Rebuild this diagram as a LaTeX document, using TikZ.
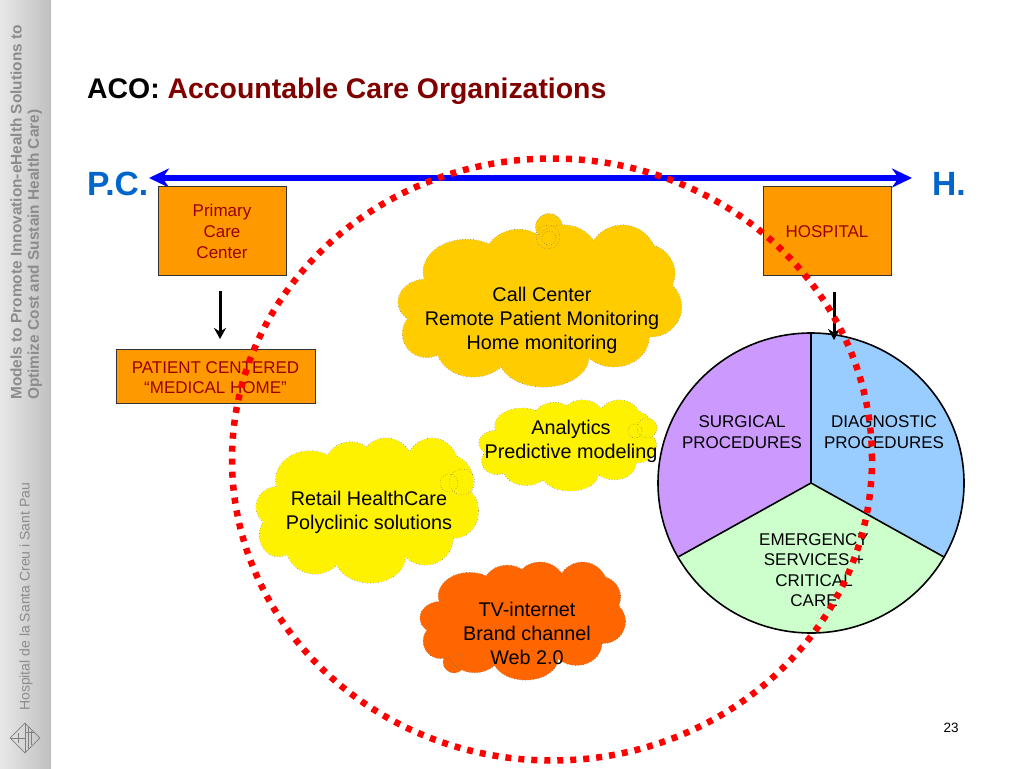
\documentclass[tikz,border=0pt]{standalone}
\usepackage{xcolor}
\usepackage{fontspec}
\setmainfont{Liberation Sans}
\usetikzlibrary{arrows.meta,shapes.geometric}
\definecolor{darkred}{HTML}{800000}
\definecolor{boxred}{HTML}{990000}
\definecolor{headblue}{HTML}{0066CC}
\definecolor{boxorange}{HTML}{FF9900}
\definecolor{sidegrey}{HTML}{8C8C8C}
\definecolor{callyellow}{HTML}{FFCC00}
\definecolor{tvorange}{HTML}{FF6600}
\definecolor{surgical}{HTML}{CC99FF}
\definecolor{diagnostic}{HTML}{99CCFF}
\definecolor{emergency}{HTML}{CCFFCC}
\newcommand{\sz}[1]{\fontsize{#1}{#1}\selectfont}
\newcommand{\lobelist}{110/305/85/68, 230/215/130/97, 385/175/100/87, 520/175/105/100, 695/185/105/110, 760/220/92/88, 780/320/92/90, 670/410/105/90, 460/470/135/90, 250/440/110/90, 110/400/72/72}
% one cloud: colour, left, top, width, height
\newcommand{\lobecloud}[5]{
    \begin{scope}[shift={(#2,#3)}, xscale=#4/845, yscale=#5/485, shift={(-25,-75)}]
        \foreach \cx/\cy/\rx/\ry in \lobelist
            \draw[cloudline] (\cx,\cy) ellipse [x radius=\rx, y radius=\ry];
        \foreach \cx/\cy/\rx/\ry in \lobelist
            \fill[#1] (\cx,\cy) ellipse [x radius=\rx, y radius=\ry];
        \fill[#1] (450,310) ellipse [x radius=330, y radius=170];
    \end{scope}
}
\tikzset{
    orangebox/.style={draw=black!80, fill=boxorange, inner sep=0pt, line width=0.8pt},
    boxtext/.style={text=boxred, align=center, font=\sz{17}, inner sep=0pt},
    cloudline/.style={draw=black!65, dotted, line width=0.7pt},
    puff/.style={circle, draw=black!55, dotted, line width=0.5pt, inner sep=0pt},
    bubbletext/.style={align=center, font=\sz{19.8}},
    pietext/.style={align=center, font=\sz{17}},
    heading/.style={font=\bfseries\sz{33.6}, text=headblue},
    sidetext/.style={rotate=90, anchor=west, text=sidegrey, font=\bfseries\sz{15.4}, inner sep=0pt},
    pointer/.style={-{Stealth[length=11pt,width=12pt]}, line width=3pt, black}
}
\begin{document}
\begin{tikzpicture}[x=1pt,y=-1pt]
    \useasboundingbox (0,0) rectangle (1024,768);
    \fill[white] (0,0) rectangle (1024,768);
    % side band
    \shade[left color=black!9, right color=black!25] (0,0) rectangle (51,768);
    \node[sidetext] (sidea) at (16,400) {Models to Promote Innovation-eHealth Solutions to};
    \node[sidetext] (sideb) at (35,400) {Optimize Cost and Sustain Health Care)};
    \node[sidetext, font=\sz{14}] (sidec) at (26,711) {Hospital de la Santa Creu i Sant Pau};
    \node[diamond, draw=black!50, minimum width=30pt, minimum height=30pt, inner sep=0pt, line width=0.8pt] (logo) at (25,738) {};
    \draw[black!50, line width=0.7pt] (logo.north) -- (logo.south) (logo.west) -- (logo.center);
    \draw[black!50, line width=0.7pt] (18,733) -- (18,743) (28,727) -- (28,749) (31,731) -- (31,745) (25,732) -- (34,732);

    % title
    \node[anchor=base west, inner sep=0pt, font=\bfseries\sz{28.4}] (title) at (87,98) {ACO: \textcolor{darkred}{Accountable Care Organizations}};
    \node[heading, anchor=base west, inner sep=0pt] (pc) at (87,195) {P.C.};
    \node[heading, anchor=base west, inner sep=0pt] (h) at (932,195) {H.};
    \coordinate (axisl) at (149,178);
    \coordinate (axisr) at (912,178);
    \draw[{Stealth[length=20pt,width=19pt]}-{Stealth[length=20pt,width=19pt]}, blue, line width=6pt] (axisl) -- (axisr);

    % boxes
    \node[orangebox, minimum width=128pt, minimum height=89pt] (care) at (222,230.5) {};
    \node[boxtext] (caretext) at (222,231.5) {Primary\\[3.6pt]Care\\[3.6pt]Center};
    \node[orangebox, minimum width=128pt, minimum height=89pt] (hospital) at (827,230.5) {};
    \node[boxtext] (hospitaltext) at (827,232) {HOSPITAL};
    \node[orangebox, minimum width=199pt, minimum height=54pt] (home) at (215.5,376) {};
    \node[boxtext] (hometext) at (215.5,377.5) {PATIENT CENTERED\\[3pt]“MEDICAL HOME”};
    \coordinate (carearrow) at (220,291);
    \coordinate (cararrowend) at (220,339);
    \coordinate (hosparrow) at (834,292);
    \coordinate (hosparrowend) at (834,340);
    \draw[pointer] (carearrow) -- (cararrowend);

    % clouds
    \node[puff, fill=callyellow, minimum size=27pt] (callpuff) at (549,227) {};
    \lobecloud{callyellow}{398}{225}{283}{162}
    \node[puff, minimum size=24pt] (callpuffb) at (548,237) {};
    \node[puff, minimum size=14pt] (callpuffc) at (549,238) {};
    \lobecloud{yellow}{479}{400}{177}{91}
    \node[puff, fill=yellow, minimum size=20pt] (analyticspuff) at (647,428) {};
    \node[puff, minimum size=14pt] (analyticspuffb) at (635,431) {};
    \lobecloud{yellow}{256}{438}{222}{145}
    \node[puff, minimum size=26pt] (retailpuff) at (462,482) {};
    \node[puff, minimum size=18pt] (retailpuffb) at (449,483) {};
    \node[puff, fill=tvorange, minimum size=22pt] (tvpuff) at (454,662) {};
    \lobecloud{tvorange}{420}{562}{205}{118}
    \node[puff, minimum size=12pt] (tvpuffb) at (457,660) {};

    \node[bubbletext] (calltext) at (542,320) {Call Center\\[4.2pt]Remote Patient Monitoring\\[4.2pt]Home monitoring};
    \node[bubbletext] (analyticstext) at (571,441) {Analytics\\[4.2pt]Predictive modeling};
    \node[bubbletext] (retailtext) at (369,512) {Retail HealthCare\\[4.2pt]Polyclinic solutions};
    \node[bubbletext] (tvtext) at (527,633) {TV-internet\\[4.2pt]Brand channel\\[4.2pt]Web 2.0};

    % pie
    \coordinate (piec) at (811,483);
    \coordinate (pietop) at (811,333);
    \coordinate (pieleft) at (678,557);
    \coordinate (pieright) at (944,557);
    \fill[surgical] (piec) -- (pieleft) arc[start angle=209.5, end angle=90, x radius=153pt, y radius=150pt] -- cycle;
    \fill[diagnostic] (piec) -- (pietop) arc[start angle=90, end angle=-29.5, x radius=153pt, y radius=150pt] -- cycle;
    \fill[emergency] (piec) -- (pieright) arc[start angle=-29.5, end angle=-150.5, x radius=153pt, y radius=150pt] -- cycle;
    \node[ellipse, draw=black, minimum width=306pt, minimum height=300pt, inner sep=0pt, line width=1.6pt] (pie) at (piec) {};
    \draw[black, line width=1.6pt] (pietop) -- (piec) (piec) -- (pieleft) (piec) -- (pieright);
    \node[pietext] (surgicaltext) at (742,432) {SURGICAL\\[4pt]PROCEDURES};
    \node[pietext] (diagnostictext) at (884,432) {DIAGNOSTIC\\[4pt]PROCEDURES};
    \node[pietext] (emergencytext) at (814,570) {EMERGENCY\\[3.3pt]SERVICES +\\[3.3pt]CRITICAL\\[3.3pt]CARE};
    \draw[pointer] (hosparrow) -- (hosparrowend);

    % red ring
    \node[ellipse, draw=red, line width=6.5pt, dash pattern=on 6pt off 7pt, minimum width=640pt, minimum height=602pt, inner sep=0pt] (ring) at (552,459.5) {};

    \node[font=\sz{13.5}, inner sep=0pt] (page) at (951,728) {23};
\end{tikzpicture}
\end{document}
